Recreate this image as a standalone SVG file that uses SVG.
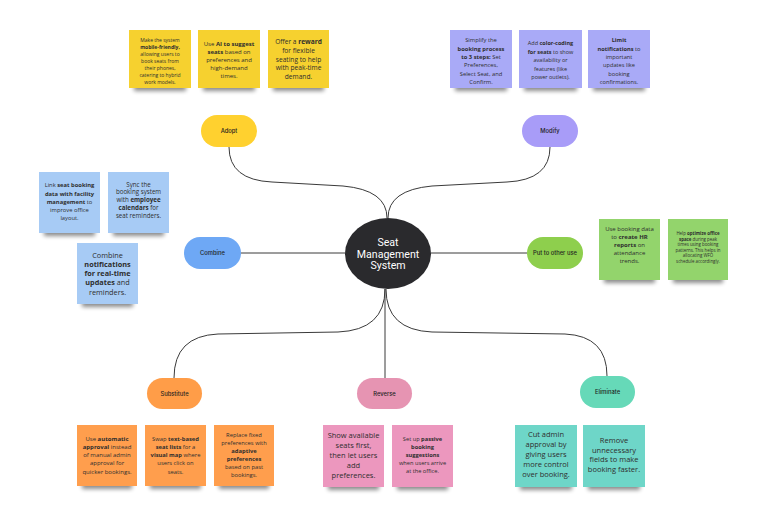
<svg xmlns="http://www.w3.org/2000/svg" width="768" height="525" viewBox="0 0 768 525">
<defs>
<filter id="blur" x="-20%" y="-100%" width="140%" height="300%"><feGaussianBlur stdDeviation="2.2"/></filter>
<style>
.bg{fill:#ffffff}
.conn{fill:none;stroke:#3a3a3a;stroke-width:1}
.pilltxt{font-family:Inter,"Noto Sans",sans-serif;font-size:5.8px;font-weight:500;fill:#1f1f1f;text-anchor:middle}
.ctr{font-family:Roboto,"Noto Sans",sans-serif;font-size:10.6px;fill:#ffffff;text-anchor:middle}
.st{font-family:"Open Sans","Noto Sans",sans-serif;fill:#2e2e2e;text-anchor:middle}
.sh{fill:#000;opacity:0.45;filter:url(#blur)}
.y{fill:#F6D12F}.p{fill:#A9AAF7}.b{fill:#A7CBF5}.g{fill:#93D46C}.o{fill:#FF9E4D}.k{fill:#EC97BE}.t{fill:#6ED6C8}
.bd{font-weight:700}
</style>
</defs>
<rect class="bg" x="0" y="0" width="768" height="525"/>

<g id="connectors">
<path class="conn" d="M229,147 Q229,180 272,182 L343,186 Q387,190 387,218"/>
<path class="conn" d="M550,147 Q550,180 507,182 L432,186 Q388,190 388,218"/>
<path class="conn" d="M241,253 L345,253"/>
<path class="conn" d="M431,253 L527,253"/>
<path class="conn" d="M174,378 Q174,336 218,334 L338,332 Q385,330 385,289"/>
<path class="conn" d="M385,289 L385,378"/>
<path class="conn" d="M607,376 Q607,336 565,334 L432,332 Q386,330 386,289"/>
</g>

<g id="center">
<ellipse cx="388" cy="253.5" rx="43" ry="35.5" fill="#2A2A2D"/>
<text class="ctr" x="388" y="245.5">Seat</text>
<text class="ctr" x="388" y="257.5">Management</text>
<text class="ctr" x="388" y="269">System</text>
</g>

<g id="adopt"><rect x="201" y="115" width="56" height="32" rx="16" fill="#FFD12F"/><text class="pilltxt" x="229" y="133">Adopt</text></g>
<g id="modify"><rect x="522" y="115" width="56" height="32" rx="16" fill="#A89CF8"/><text class="pilltxt" x="550" y="133">Modify</text></g>
<g id="combine"><rect x="184" y="237" width="57" height="32" rx="16" fill="#6EA8F5"/><text class="pilltxt" x="212.5" y="255">Combine</text></g>
<g id="put-to-other-use"><rect x="527" y="237" width="56" height="32" rx="16" fill="#8ECF4D"/><text class="pilltxt" x="555" y="255">Put to other use</text></g>
<g id="substitute"><rect x="147" y="378" width="55" height="31" rx="15.5" fill="#FF9D48"/><text class="pilltxt" x="174.5" y="396">Substitute</text></g>
<g id="reverse"><rect x="357" y="378" width="55" height="31" rx="15.5" fill="#E694B2"/><text class="pilltxt" x="384.5" y="396">Reverse</text></g>
<g id="eliminate"><rect x="580" y="376" width="55" height="32" rx="16" fill="#66D9B8"/><text class="pilltxt" x="607.5" y="394">Eliminate</text></g>

<!-- Adopt stickies -->
<g id="adopt-note-1">
<rect class="sh" x="134" y="83" width="52" height="8"/>
<rect class="y" x="129" y="30" width="62" height="58"/>
<text class="st" font-size="5" x="160"><tspan x="160" y="42">Make the system</tspan><tspan x="160" y="49" class="bd">mobile-friendly,</tspan><tspan x="160" y="56">allowing users to</tspan><tspan x="160" y="63">book seats from</tspan><tspan x="160" y="70">their phones,</tspan><tspan x="160" y="77">catering to hybrid</tspan><tspan x="160" y="84">work models.</tspan></text>
</g>
<g id="adopt-note-2">
<rect class="sh" x="203" y="83" width="52" height="8"/>
<rect class="y" x="198" y="30" width="62" height="58"/>
<text class="st" font-size="6" x="229"><tspan x="229" y="45.5">Use <tspan class="bd">AI to suggest</tspan></tspan><tspan x="229" y="53.7" class="bd">seats<tspan font-weight="400"> based on</tspan></tspan><tspan x="229" y="61.9">preferences and</tspan><tspan x="229" y="70.1">high-demand</tspan><tspan x="229" y="78.3">times.</tspan></text>
</g>
<g id="adopt-note-3">
<rect class="sh" x="273" y="83" width="51" height="8"/>
<rect class="y" x="268" y="30" width="61" height="58"/>
<text class="st" font-size="6.6" x="298.5"><tspan x="298.5" y="44.3">Offer a <tspan class="bd">reward</tspan></tspan><tspan x="298.5" y="53">for flexible</tspan><tspan x="298.5" y="61.7">seating to help</tspan><tspan x="298.5" y="70.4">with peak-time</tspan><tspan x="298.5" y="79.1">demand.</tspan></text>
</g>

<!-- Modify stickies -->
<g id="modify-note-1">
<rect class="sh" x="455" y="83" width="52" height="8"/>
<rect class="p" x="450" y="30" width="62" height="58"/>
<text class="st" font-size="5.8" x="481"><tspan x="481" y="42.3">Simplify the</tspan><tspan x="481" y="50.6" class="bd">booking process</tspan><tspan x="481" y="58.9"><tspan class="bd">to 3 steps:</tspan> Set</tspan><tspan x="481" y="67.2">Preferences,</tspan><tspan x="481" y="75.5">Select Seat, and</tspan><tspan x="481" y="83.8">Confirm.</tspan></text>
</g>
<g id="modify-note-2">
<rect class="sh" x="524" y="83" width="53" height="8"/>
<rect class="p" x="519" y="30" width="63" height="58"/>
<text class="st" font-size="5.5" x="550.5"><tspan x="550.5" y="45.3">Add <tspan class="bd">color-coding</tspan></tspan><tspan x="550.5" y="53.7"><tspan class="bd">for seats</tspan> to show</tspan><tspan x="550.5" y="62.1">availability or</tspan><tspan x="550.5" y="70.5">features (like</tspan><tspan x="550.5" y="78.9">power outlets).</tspan></text>
</g>
<g id="modify-note-3">
<rect class="sh" x="593" y="83" width="52" height="8"/>
<rect class="p" x="588" y="30" width="62" height="58"/>
<text class="st" font-size="5.7" x="619"><tspan x="619" y="42.3" class="bd">Limit</tspan><tspan x="619" y="50.6"><tspan class="bd">notifications</tspan> to</tspan><tspan x="619" y="58.9">important</tspan><tspan x="619" y="67.2">updates like</tspan><tspan x="619" y="75.5">booking</tspan><tspan x="619" y="83.8">confirmations.</tspan></text>
</g>

<!-- Combine stickies -->
<g id="combine-note-1">
<rect class="sh" x="44" y="228" width="51" height="8"/>
<rect class="b" x="39" y="172" width="61" height="61"/>
<text class="st" font-size="5.8" x="69.5"><tspan x="69.5" y="187.2">Link <tspan class="bd">seat booking</tspan></tspan><tspan x="69.5" y="195.5" class="bd">data with facility</tspan><tspan x="69.5" y="203.8"><tspan class="bd">management</tspan> to</tspan><tspan x="69.5" y="212.1">improve office</tspan><tspan x="69.5" y="220.4">layout.</tspan></text>
</g>
<g id="combine-note-2">
<rect class="sh" x="113" y="228" width="51" height="8"/>
<rect class="b" x="108" y="172" width="61" height="61"/>
<text class="st" font-size="6.2" x="138.5"><tspan x="138.5" y="186.5">Sync the</tspan><tspan x="138.5" y="194.3">booking system</tspan><tspan x="138.5" y="202.1">with <tspan class="bd">employee</tspan></tspan><tspan x="138.5" y="209.9"><tspan class="bd">calendars</tspan> for</tspan><tspan x="138.5" y="217.7">seat reminders.</tspan></text>
</g>
<g id="combine-note-3">
<rect class="sh" x="82" y="299" width="51" height="8"/>
<rect class="b" x="77" y="243" width="61" height="61"/>
<text class="st" font-size="7.3" x="107.5"><tspan x="107.5" y="257.8">Combine</tspan><tspan x="107.5" y="267" class="bd">notifications</tspan><tspan x="107.5" y="276.2" class="bd">for real-time</tspan><tspan x="107.5" y="285.4"><tspan class="bd">updates</tspan> and</tspan><tspan x="107.5" y="294.6">reminders.</tspan></text>
</g>

<!-- Put to other use stickies -->
<g id="use-note-1">
<rect class="sh" x="604" y="275" width="51" height="8"/>
<rect class="g" x="599" y="219" width="61" height="61"/>
<text class="st" font-size="6" x="629.5"><tspan x="629.5" y="230.5">Use booking data</tspan><tspan x="629.5" y="238.5">to <tspan class="bd">create HR</tspan></tspan><tspan x="629.5" y="246.5"><tspan class="bd">reports</tspan> on</tspan><tspan x="629.5" y="254.5">attendance</tspan><tspan x="629.5" y="262.5">trends.</tspan></text>
</g>
<g id="use-note-2">
<rect class="sh" x="673" y="275" width="50" height="8"/>
<rect class="g" x="668" y="219" width="60" height="61"/>
<text class="st" font-size="4.4" x="698"><tspan x="698" y="235">Help <tspan class="bd">optimize office</tspan></tspan><tspan x="698" y="240.6"><tspan class="bd">space</tspan> during peak</tspan><tspan x="698" y="246.2">times using booking</tspan><tspan x="698" y="251.8">patterns. This helps in</tspan><tspan x="698" y="257.4">allocating WFO</tspan><tspan x="698" y="263">schedule accordingly.</tspan></text>
</g>

<!-- Substitute stickies -->
<g id="substitute-note-1">
<rect class="sh" x="82" y="481" width="50" height="8"/>
<rect class="o" x="77" y="425" width="60" height="61"/>
<text class="st" font-size="6" x="107"><tspan x="107" y="440.5">Use <tspan class="bd">automatic</tspan></tspan><tspan x="107" y="448.8"><tspan class="bd">approval</tspan> instead</tspan><tspan x="107" y="457.1">of manual admin</tspan><tspan x="107" y="465.4">approval for</tspan><tspan x="107" y="473.7">quicker bookings.</tspan></text>
</g>
<g id="substitute-note-2">
<rect class="sh" x="150" y="481" width="51" height="8"/>
<rect class="o" x="145" y="425" width="61" height="61"/>
<text class="st" font-size="5.8" x="175.5"><tspan x="175.5" y="440.5">Swap <tspan class="bd">text-based</tspan></tspan><tspan x="175.5" y="448.8"><tspan class="bd">seat lists</tspan> for a</tspan><tspan x="175.5" y="457.1"><tspan class="bd">visual map</tspan> where</tspan><tspan x="175.5" y="465.4">users click on</tspan><tspan x="175.5" y="473.7">seats.</tspan></text>
</g>
<g id="substitute-note-3">
<rect class="sh" x="219" y="481" width="50" height="8"/>
<rect class="o" x="214" y="425" width="60" height="61"/>
<text class="st" font-size="5.8" x="244"><tspan x="244" y="437.2">Replace fixed</tspan><tspan x="244" y="445.2">preferences with</tspan><tspan x="244" y="453.2" class="bd">adaptive</tspan><tspan x="244" y="461.2" class="bd">preferences</tspan><tspan x="244" y="469.2">based on past</tspan><tspan x="244" y="477.2">bookings.</tspan></text>
</g>

<!-- Reverse stickies -->
<g id="reverse-note-1">
<rect class="sh" x="328" y="482" width="51" height="8"/>
<rect class="k" x="323" y="425" width="61" height="62"/>
<text class="st" font-size="7.5" x="353.5"><tspan x="353.5" y="437.8">Show available</tspan><tspan x="353.5" y="447.8">seats first,</tspan><tspan x="353.5" y="457.8">then let users</tspan><tspan x="353.5" y="467.8">add</tspan><tspan x="353.5" y="477.8">preferences.</tspan></text>
</g>
<g id="reverse-note-2">
<rect class="sh" x="397" y="482" width="51" height="8"/>
<rect class="k" x="392" y="425" width="61" height="62"/>
<text class="st" font-size="5.7" x="422.5"><tspan x="422.5" y="441">Set up <tspan class="bd">passive</tspan></tspan><tspan x="422.5" y="449" class="bd">booking</tspan><tspan x="422.5" y="457" class="bd">suggestions</tspan><tspan x="422.5" y="465">when users arrive</tspan><tspan x="422.5" y="473">at the office.</tspan></text>
</g>

<!-- Eliminate stickies -->
<g id="eliminate-note-1">
<rect class="sh" x="520" y="482" width="52" height="8"/>
<rect class="t" x="515" y="425" width="62" height="62"/>
<text class="st" font-size="7.5" x="546"><tspan x="546" y="437.3">Cut admin</tspan><tspan x="546" y="447.3">approval by</tspan><tspan x="546" y="457.3">giving users</tspan><tspan x="546" y="467.3">more control</tspan><tspan x="546" y="477.3">over booking.</tspan></text>
</g>
<g id="eliminate-note-2">
<rect class="sh" x="588" y="482" width="52" height="8"/>
<rect class="t" x="583" y="425" width="62" height="62"/>
<text class="st" font-size="7.5" x="614"><tspan x="614" y="442.8">Remove</tspan><tspan x="614" y="452.5">unnecessary</tspan><tspan x="614" y="462.2">fields to make</tspan><tspan x="614" y="471.9">booking faster.</tspan></text>
</g>
</svg>
